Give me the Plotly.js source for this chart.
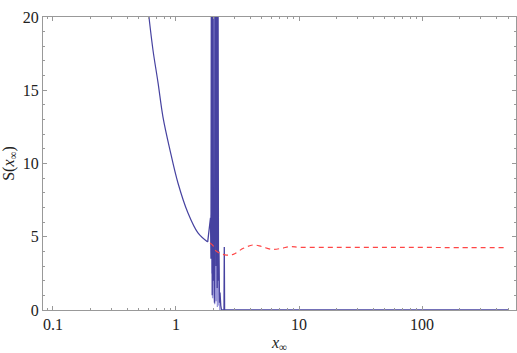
<!DOCTYPE html>
<html>
<head>
<meta charset="utf-8">
<script src="https://cdn.plot.ly/plotly-3.0.1.min.js"></script>
<style>
  html, body { margin: 0; padding: 0; background: #fff; }
  #plot { width: 517px; height: 353px; }
</style>
</head>
<body>
<div id="plot"></div>
<script>
// numerical solution S(x_inf)
// smooth falling branch
const branchX = [0.603, 0.650, 0.715, 0.784, 0.894, 1.038, 1.252, 1.509, 1.810];
const branchY = [20, 17.75, 15.5, 13.17, 10.92, 8.67, 6.62, 5.26, 4.64];

// oscillating part and the flat tail at zero
const blueX = [1.810, 1.873, 1.908, 1.925, 1.944, 1.970, 1.992, 2.018, 2.037,
  2.056, 2.087, 2.114, 2.134, 2.163, 2.187, 2.216, 2.237, 2.258, 2.279, 2.313,
  2.344, 2.456, 2.470, 2.484, 500];
const blueY = [4.64, 5.5, 6.3, 3.5, 30, 1.0, 30, 2.0, 6.0,
  0.5, 30, 3.0, 30, 1.5, 30, 2.0, 4.0, 0.5, 1.2, 0.3,
  0, 0, 4.3, 0, 0];

// the pale sheet of overlapping oscillations
const sheetX = [1.940, 1.950, 1.960, 1.975, 1.985, 2.000, 2.010, 2.025, 2.040,
  2.050, 2.065, 2.075, 2.090, 2.100, 2.120, 2.130, 2.145, 2.155, 2.170, 2.180,
  2.195, 2.210, 2.230, 2.250, 2.270];
const sheetY = [6.5, 30, 2.5, 30, 0.8, 30, 4.0, 30, 1.2,
  30, 0.4, 30, 3.5, 30, 0.6, 30, 2.2, 30, 0.2,
  30, 1.0, 3.2, 0.3, 1.5, 0];

// asymptotic (dashed) curve
const redX = [1.89, 2.00, 2.10, 2.28, 2.58, 2.92, 3.53, 4.25, 4.97, 6.00, 7.23,
  8.45, 10.2, 20, 50, 100, 200, 491];
const redY = [4.57, 4.40, 4.05, 3.87, 3.75, 3.80, 4.21, 4.44, 4.33, 4.14, 4.21,
  4.33, 4.28, 4.28, 4.27, 4.27, 4.26, 4.26];

const xTickVals = [0.1, 1, 10, 100];
const xTickText = ['0.1', '1', '10', '100'];
const xMinorVals = [0.09, 0.2, 0.3, 0.4, 0.5, 0.6, 0.7, 0.8, 0.9,
  2, 3, 4, 5, 6, 7, 8, 9, 20, 30, 40, 50, 60, 70, 80, 90,
  200, 300, 400, 500];
const yTickVals = [0, 5, 10, 15, 20];
const yMinorVals = [1, 2, 3, 4, 6, 7, 8, 9, 11, 12, 13, 14, 16, 17, 18, 19];

const blue = 'rgb(70,66,160)';

const traces = [
  {
    x: sheetX, y: sheetY, mode: 'lines', showlegend: false,
    line: { color: 'rgba(120,118,205,0.75)', width: 1.3 }
  },
  {
    x: branchX, y: branchY, mode: 'lines', showlegend: false,
    line: { color: blue, width: 1.2, shape: 'spline' }
  },
  {
    x: blueX, y: blueY, mode: 'lines', showlegend: false,
    line: { color: blue, width: 1.3 }
  },
  {
    x: redX, y: redY, mode: 'lines', showlegend: false,
    line: { color: 'rgb(255,70,70)', width: 1.2, dash: '5px,4px', shape: 'spline' }
  }
];

const serif = '"Liberation Serif", "Times New Roman", "DejaVu Serif", serif';
const axisFont = { family: serif, size: 16, color: '#222' };

const layout = {
  width: 517,
  height: 353,
  margin: { l: 43, r: 1, t: 17, b: 43 },
  paper_bgcolor: '#fff',
  plot_bgcolor: '#fff',
  font: { family: serif, size: 16, color: '#222' },
  xaxis: {
    type: 'log',
    range: [-1.081, 2.764],
    tickmode: 'array',
    tickvals: xTickVals,
    ticktext: xTickText,
    ticks: 'inside',
    ticklen: 4,
    tickcolor: '#999',
    showline: true,
    linecolor: '#999',
    mirror: 'ticks',
    showgrid: false,
    zeroline: false,
    tickfont: axisFont,
    minor: { tickvals: xMinorVals, ticks: 'inside', ticklen: 2, tickcolor: '#999', showgrid: false },
    title: { text: '<i>x</i><sub>∞</sub>', font: axisFont, standoff: 10 }
  },
  yaxis: {
    range: [0, 20],
    tickmode: 'array',
    tickvals: yTickVals,
    ticks: 'inside',
    ticklen: 4,
    tickcolor: '#999',
    showline: true,
    linecolor: '#999',
    mirror: 'ticks',
    showgrid: false,
    zeroline: false,
    tickfont: axisFont,
    minor: { tickvals: yMinorVals, ticks: 'inside', ticklen: 2, tickcolor: '#999', showgrid: false },
    title: { text: 'S(<i>x</i><sub>∞</sub>)', font: axisFont, standoff: 6 }
  }
};

Plotly.newPlot('plot', traces, layout, { staticPlot: true });
</script>
</body>
</html>
